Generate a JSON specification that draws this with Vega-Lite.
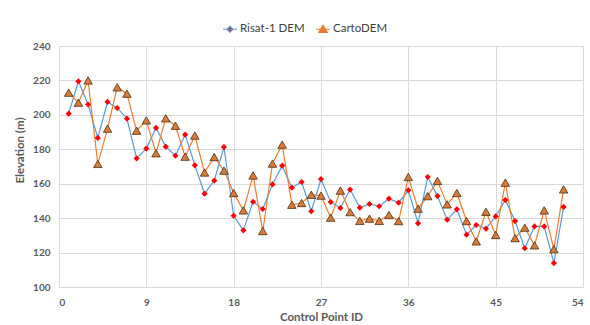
{
  "$schema": "https://vega.github.io/schema/vega-lite/v6.json",
  "width": 524,
  "height": 241,
  "autosize": "none",
  "padding": {"left": 59, "top": 46, "right": 7, "bottom": 38},
  "background": "white",
  "config": {
    "view": {"stroke": null},
    "font": "Lato",
    "axis": {
      "grid": true,
      "gridColor": "#d9d9d9",
      "gridWidth": 1,
      "domain": false,
      "ticks": false,
      "labelColor": "#595959",
      "labelFont": "Lato",
      "labelFontSize": 10,
      "labelFontWeight": "bold",
      "titleColor": "#595959",
      "titleFont": "Lato",
      "titleFontSize": 11.5,
      "titleFontWeight": "bold"
    }
  },
  "data": {
    "values": [
      {"id": 1, "series": "Risat-1 DEM", "elev": 200.7},
      {"id": 2, "series": "Risat-1 DEM", "elev": 219.5},
      {"id": 3, "series": "Risat-1 DEM", "elev": 206},
      {"id": 4, "series": "Risat-1 DEM", "elev": 186.6},
      {"id": 5, "series": "Risat-1 DEM", "elev": 207.5},
      {"id": 6, "series": "Risat-1 DEM", "elev": 204},
      {"id": 7, "series": "Risat-1 DEM", "elev": 197.8},
      {"id": 8, "series": "Risat-1 DEM", "elev": 174.7},
      {"id": 9, "series": "Risat-1 DEM", "elev": 180.4},
      {"id": 10, "series": "Risat-1 DEM", "elev": 192.4},
      {"id": 11, "series": "Risat-1 DEM", "elev": 181.5},
      {"id": 12, "series": "Risat-1 DEM", "elev": 176.3},
      {"id": 13, "series": "Risat-1 DEM", "elev": 188.5},
      {"id": 14, "series": "Risat-1 DEM", "elev": 170.7},
      {"id": 15, "series": "Risat-1 DEM", "elev": 154.2},
      {"id": 16, "series": "Risat-1 DEM", "elev": 161.8},
      {"id": 17, "series": "Risat-1 DEM", "elev": 181.3},
      {"id": 18, "series": "Risat-1 DEM", "elev": 141.4},
      {"id": 19, "series": "Risat-1 DEM", "elev": 132.9},
      {"id": 20, "series": "Risat-1 DEM", "elev": 149.5},
      {"id": 21, "series": "Risat-1 DEM", "elev": 145.3},
      {"id": 22, "series": "Risat-1 DEM", "elev": 159.6},
      {"id": 23, "series": "Risat-1 DEM", "elev": 170.5},
      {"id": 24, "series": "Risat-1 DEM", "elev": 157.7},
      {"id": 25, "series": "Risat-1 DEM", "elev": 161},
      {"id": 26, "series": "Risat-1 DEM", "elev": 144},
      {"id": 27, "series": "Risat-1 DEM", "elev": 162.7},
      {"id": 28, "series": "Risat-1 DEM", "elev": 149.4},
      {"id": 29, "series": "Risat-1 DEM", "elev": 145.9},
      {"id": 30, "series": "Risat-1 DEM", "elev": 156.6},
      {"id": 31, "series": "Risat-1 DEM", "elev": 146.1},
      {"id": 32, "series": "Risat-1 DEM", "elev": 148.2},
      {"id": 33, "series": "Risat-1 DEM", "elev": 146.9},
      {"id": 34, "series": "Risat-1 DEM", "elev": 151.3},
      {"id": 35, "series": "Risat-1 DEM", "elev": 149},
      {"id": 36, "series": "Risat-1 DEM", "elev": 156.2},
      {"id": 37, "series": "Risat-1 DEM", "elev": 137},
      {"id": 38, "series": "Risat-1 DEM", "elev": 163.9},
      {"id": 39, "series": "Risat-1 DEM", "elev": 152.8},
      {"id": 40, "series": "Risat-1 DEM", "elev": 139.1},
      {"id": 41, "series": "Risat-1 DEM", "elev": 145.1},
      {"id": 42, "series": "Risat-1 DEM", "elev": 130.4},
      {"id": 43, "series": "Risat-1 DEM", "elev": 136},
      {"id": 44, "series": "Risat-1 DEM", "elev": 133.9},
      {"id": 45, "series": "Risat-1 DEM", "elev": 141},
      {"id": 46, "series": "Risat-1 DEM", "elev": 150.5},
      {"id": 47, "series": "Risat-1 DEM", "elev": 138.3},
      {"id": 48, "series": "Risat-1 DEM", "elev": 122.5},
      {"id": 49, "series": "Risat-1 DEM", "elev": 135.2},
      {"id": 50, "series": "Risat-1 DEM", "elev": 135.2},
      {"id": 51, "series": "Risat-1 DEM", "elev": 113.9},
      {"id": 52, "series": "Risat-1 DEM", "elev": 146.5},
      {"id": 1, "series": "CartoDEM", "elev": 212.9},
      {"id": 2, "series": "CartoDEM", "elev": 207.1},
      {"id": 3, "series": "CartoDEM", "elev": 220},
      {"id": 4, "series": "CartoDEM", "elev": 171.5},
      {"id": 5, "series": "CartoDEM", "elev": 192},
      {"id": 6, "series": "CartoDEM", "elev": 216},
      {"id": 7, "series": "CartoDEM", "elev": 212.3},
      {"id": 8, "series": "CartoDEM", "elev": 190.8},
      {"id": 9, "series": "CartoDEM", "elev": 196.8},
      {"id": 10, "series": "CartoDEM", "elev": 177.7},
      {"id": 11, "series": "CartoDEM", "elev": 198},
      {"id": 12, "series": "CartoDEM", "elev": 193.7},
      {"id": 13, "series": "CartoDEM", "elev": 175.7},
      {"id": 14, "series": "CartoDEM", "elev": 188},
      {"id": 15, "series": "CartoDEM", "elev": 166.5},
      {"id": 16, "series": "CartoDEM", "elev": 175.5},
      {"id": 17, "series": "CartoDEM", "elev": 167.6},
      {"id": 18, "series": "CartoDEM", "elev": 154.6},
      {"id": 19, "series": "CartoDEM", "elev": 144.5},
      {"id": 20, "series": "CartoDEM", "elev": 164.8},
      {"id": 21, "series": "CartoDEM", "elev": 132.5},
      {"id": 22, "series": "CartoDEM", "elev": 171.7},
      {"id": 23, "series": "CartoDEM", "elev": 182.7},
      {"id": 24, "series": "CartoDEM", "elev": 147.8},
      {"id": 25, "series": "CartoDEM", "elev": 148.8},
      {"id": 26, "series": "CartoDEM", "elev": 153.6},
      {"id": 27, "series": "CartoDEM", "elev": 153.1},
      {"id": 28, "series": "CartoDEM", "elev": 140.3},
      {"id": 29, "series": "CartoDEM", "elev": 156},
      {"id": 30, "series": "CartoDEM", "elev": 143.5},
      {"id": 31, "series": "CartoDEM", "elev": 138.4},
      {"id": 32, "series": "CartoDEM", "elev": 139.7},
      {"id": 33, "series": "CartoDEM", "elev": 138.4},
      {"id": 34, "series": "CartoDEM", "elev": 141.8},
      {"id": 35, "series": "CartoDEM", "elev": 138.3},
      {"id": 36, "series": "CartoDEM", "elev": 163.9},
      {"id": 37, "series": "CartoDEM", "elev": 145.5},
      {"id": 38, "series": "CartoDEM", "elev": 152.8},
      {"id": 39, "series": "CartoDEM", "elev": 161.6},
      {"id": 40, "series": "CartoDEM", "elev": 148},
      {"id": 41, "series": "CartoDEM", "elev": 154.6},
      {"id": 42, "series": "CartoDEM", "elev": 138.3},
      {"id": 43, "series": "CartoDEM", "elev": 126.5},
      {"id": 44, "series": "CartoDEM", "elev": 143.7},
      {"id": 45, "series": "CartoDEM", "elev": 130.2},
      {"id": 46, "series": "CartoDEM", "elev": 160.6},
      {"id": 47, "series": "CartoDEM", "elev": 128.4},
      {"id": 48, "series": "CartoDEM", "elev": 134.5},
      {"id": 49, "series": "CartoDEM", "elev": 124.2},
      {"id": 50, "series": "CartoDEM", "elev": 144.5},
      {"id": 51, "series": "CartoDEM", "elev": 122},
      {"id": 52, "series": "CartoDEM", "elev": 156.7}
    ]
  },
  "encoding": {
    "x": {
      "field": "id",
      "type": "quantitative",
      "scale": {"domain": [0, 54], "nice": false, "zero": false},
      "axis": {"title": "Control Point ID", "values": [0, 9, 18, 27, 36, 45, 54], "labelPadding": 10, "titlePadding": 4}
    },
    "y": {
      "field": "elev",
      "type": "quantitative",
      "scale": {"domain": [100, 240], "nice": false, "zero": false},
      "axis": {"title": "Elevation (m)", "values": [100, 120, 140, 160, 180, 200, 220, 240], "labelPadding": 9, "titlePadding": 7, "titleY": 104}
    }
  },
  "layer": [
    {
      "mark": {"type": "line", "strokeWidth": 1.2},
      "encoding": {
        "stroke": {
          "field": "series",
          "type": "nominal",
          "scale": {"domain": ["Risat-1 DEM", "CartoDEM"], "range": ["#5B9BD5", "#ED7D31"]},
          "legend": {
            "title": null,
            "orient": "none",
            "direction": "horizontal",
            "legendX": 163,
            "legendY": -25,
            "padding": 0,
            "symbolSize": 196,
            "symbolStrokeWidth": 1.2,
            "labelFont": "Lato",
            "labelFontSize": 11.5,
            "labelColor": "#404040",
            "labelOffset": 2,
            "columnPadding": 8,
            "encode": {
              "symbols": {
                "update": {
                  "shape": {"signal": "datum.value === 'Risat-1 DEM' ? 'M-1,0L1,0M0,-0.43L0.43,0L0,0.43L-0.43,0Z' : 'M-1,0L1,0M0,-0.55L0.62,0.45L-0.62,0.45Z'"},
                  "fill": {"signal": "datum.value === 'Risat-1 DEM' ? '#FF0000' : '#DA7B36'"},
                  "fillOpacity": {"value": 1}
                }
              }
            }
          }
        },
        "order": {"field": "id"}
      }
    },
    {
      "transform": [{"filter": "datum.series === 'Risat-1 DEM'"}],
      "mark": {"type": "point", "shape": "diamond", "filled": true, "fill": "#FF0000", "opacity": 1, "size": 38, "strokeWidth": 0}
    },
    {
      "transform": [{"filter": "datum.series === 'CartoDEM'"}],
      "mark": {"type": "point", "shape": "triangle-up", "filled": true, "fill": "#DA7B36", "stroke": "#4a2e14", "strokeWidth": 0.8, "opacity": 1, "size": 72}
    }
  ]
}
